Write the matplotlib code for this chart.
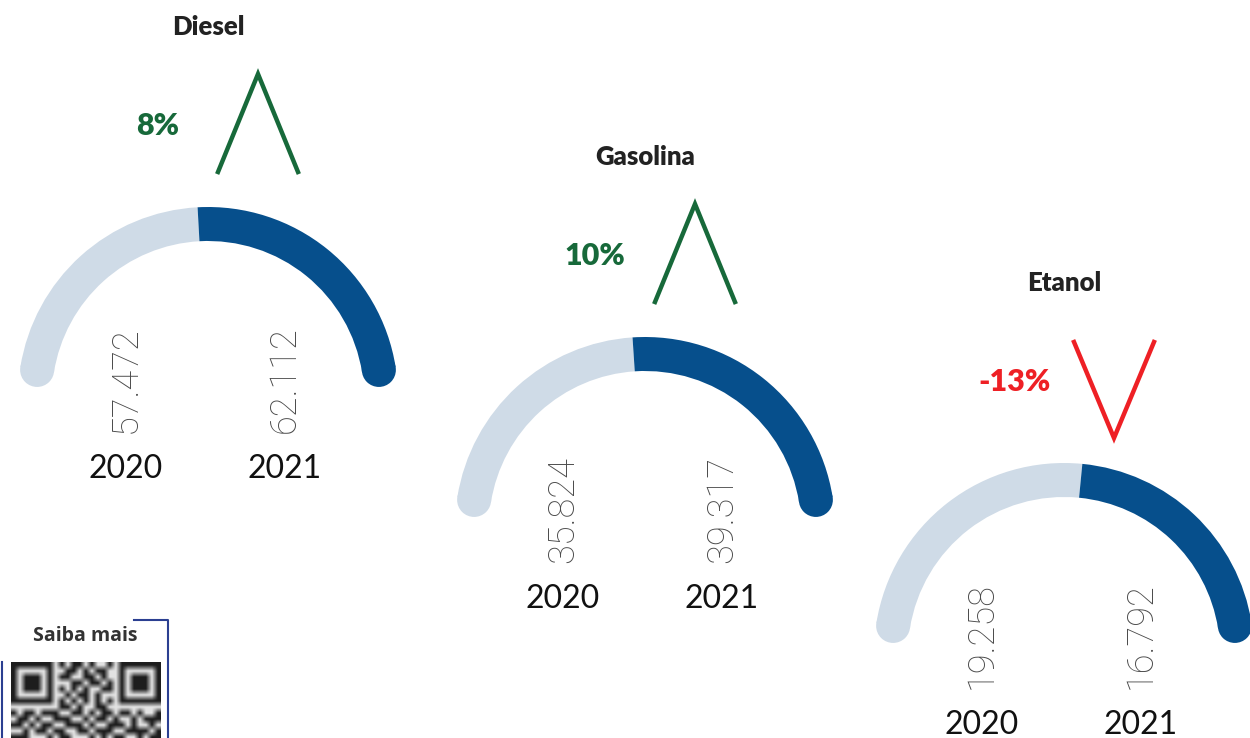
import numpy as np
import matplotlib
matplotlib.use("Agg")
import matplotlib.pyplot as plt
from matplotlib.patches import Wedge, Circle

plt.rcParams['font.family'] = ['Lato', 'DejaVu Sans']

# data
fuels = ['Diesel', 'Gasolina', 'Etanol']
years = ['2020', '2021']
vals_2020 = [57472, 35824, 19258]
vals_2021 = [62112, 39317, 16792]
labels_2020 = ['57.472', '35.824', '19.258']
labels_2021 = ['62.112', '39.317', '16.792']
changes = ['8%', '10%', '-13%']

# layout (pixel coords, y measured from top)
centers = [(208, 397), (645, 527), (1064, 653)]
H = 738
R_OUT, WIDTH = 190, 34
R_MID = R_OUT - WIDTH / 2
A_START, A_END = 171, 9

light = '#cfdbe7'
dark = '#064f8c'
green = '#17693a'
red = '#ee2025'

fig = plt.figure(figsize=(12.5, 7.38), dpi=100)
ax = fig.add_axes([0, 0, 1, 1])
ax.set_xlim(0, 1250)
ax.set_ylim(0, H)
ax.axis('off')

for i, fuel in enumerate(fuels):
    cx, cy_px = centers[i]
    cy = H - cy_px
    a, b = vals_2020[i], vals_2021[i]
    split = A_START - (A_START - A_END) * a / (a + b)

    ax.add_patch(Wedge((cx, cy), R_OUT, split, A_START, width=WIDTH, color=light, lw=0))
    ax.add_patch(Wedge((cx, cy), R_OUT, A_END, split, width=WIDTH, color=dark, lw=0))
    for ang, col in [(A_START, light), (A_END, dark)]:
        t = np.radians(ang)
        ax.add_patch(Circle((cx + R_MID * np.cos(t), cy + R_MID * np.sin(t)),
                            WIDTH / 2, color=col, lw=0))

    # title
    ax.text(cx, cy + 370, fuel, ha='center', va='center', fontsize=18.5,
            fontweight='heavy', color='#222222')

    # values (rotated) and years
    for dx, lab, yr in [(-82, labels_2020[i], years[0]), (77, labels_2021[i], years[1])]:
        ax.text(cx + dx, cy - 36, lab, rotation=90, ha='center', va='bottom',
                fontsize=26, fontweight='light', color='#4a4a4a',
                family=['Roboto', 'DejaVu Sans'])
        ax.text(cx + dx, cy - 72, yr, ha='center', va='center', fontsize=23,
                color='#111111')

    # change indicator
    up = not changes[i].startswith('-')
    col = green if up else red
    ax.text(cx - 50, cy + 271, changes[i], ha='center', va='center', fontsize=22,
            fontweight='heavy', color=col)
    xs = [cx + 10, cx + 50, cx + 90]
    if up:
        ys = [cy + 225, cy + 323, cy + 225]
    else:
        ys = [cy + 311, cy + 215, cy + 311]
    ax.plot(xs, ys, color=col, lw=3.2, solid_joinstyle='miter')

# "Saiba mais" box with QR code
qr_rows = [
    "1111111" + "0" + "101101001" + "0" + "1111111",
    "1000001" + "0" + "011010110" + "0" + "1000001",
    "1011101" + "0" + "110011010" + "0" + "1011101",
    "1011101" + "0" + "001101101" + "0" + "1011101",
    "1011101" + "0" + "101010011" + "0" + "1011101",
    "1000001" + "0" + "010110100" + "0" + "1000001",
    "1111111" + "0" + "101010101" + "0" + "1111111",
    "00000000" + "110100110" + "00000000",
    "1011011" + "1" + "001101011" + "0" + "1101001",
    "0110100" + "1" + "110010110" + "1" + "0010111",
    "1101011" + "0" + "011101001" + "1" + "1010010",
    "0010110" + "1" + "100110111" + "0" + "0111101",
    "1110001" + "0" + "110001010" + "1" + "1001011",
]
qr = np.array([[int(c) for c in r] for r in qr_rows])
mod = 6
top = 662
ax.imshow(qr, cmap='gray_r', vmin=-0.15, vmax=1.15, interpolation='bilinear',
          extent=(11, 11 + mod * qr.shape[1], H - top - mod * qr.shape[0], H - top),
          aspect='auto', zorder=2)
ax.set_xlim(0, 1250)
ax.set_ylim(0, H)
ax.text(85, H - 636, 'Saiba mais', ha='center', va='center', fontsize=14,
        fontweight='bold', color='#333333', family=['Open Sans', 'DejaVu Sans'])
ax.plot([134, 168, 168], [H - 620, H - 620, 0], color='#2b3f91', lw=1.5)
ax.plot([2, 2], [H - 662, 0], color='#2b3f91', lw=1.5)

fig.savefig('out.png', dpi=100)
